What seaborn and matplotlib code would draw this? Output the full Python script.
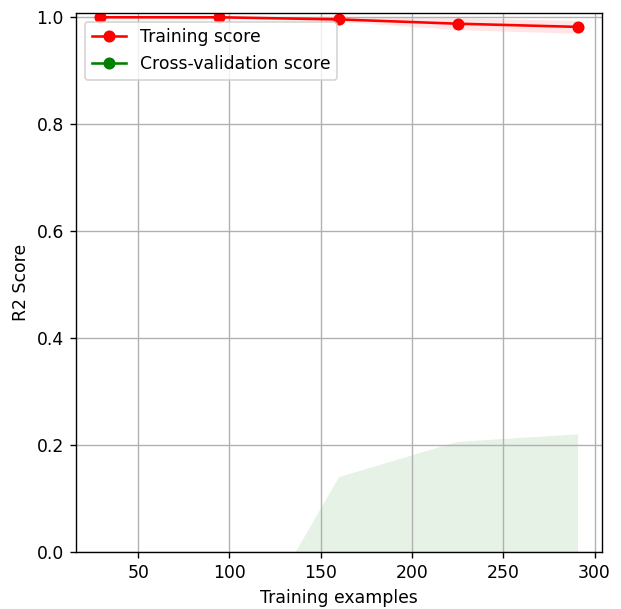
import numpy as np
import pandas as pd
import matplotlib
matplotlib.use("Agg")
import matplotlib.pyplot as plt
import seaborn as sns

# Learning-curve results
train_sizes = [29, 94, 160, 225, 291]
train_mean = [1.000, 1.000, 0.996, 0.988, 0.982]
train_std = [0.000, 0.001, 0.004, 0.011, 0.012]
cv_mean = [-2.50, -0.90, -0.35, -0.15, -0.12]
cv_std = [1.50, 0.65, 0.49, 0.356, 0.34]

df = pd.DataFrame({
    "size": train_sizes * 2,
    "score": train_mean + cv_mean,
    "kind": ["Training score"] * 5 + ["Cross-validation score"] * 5,
})

DPI = 124
W, H = 621, 609
fig, ax = plt.subplots(figsize=(W / DPI, H / DPI), dpi=DPI)
fig.subplots_adjust(left=76 / W, right=602 / W, top=1 - 13 / H, bottom=1 - 552 / H)

tm, ts = np.array(train_mean), np.array(train_std)
cm, cs = np.array(cv_mean), np.array(cv_std)
ax.fill_between(train_sizes, tm - ts, tm + ts, alpha=0.1, color="r", linewidth=0)
ax.fill_between(train_sizes, cm - cs, cm + cs, alpha=0.1, color="g", linewidth=0)

sns.lineplot(data=df, x="size", y="score", hue="kind",
             palette={"Training score": "r", "Cross-validation score": "g"},
             marker="o", markersize=7, markeredgewidth=0, ax=ax)

ax.set_ylim(0, 1.008)
ax.set_xlabel("Training examples")
ax.set_ylabel("R2 Score")
ax.grid(True)
ax.legend(loc="upper left", title=None)
fig.savefig("out.png", dpi=DPI)
